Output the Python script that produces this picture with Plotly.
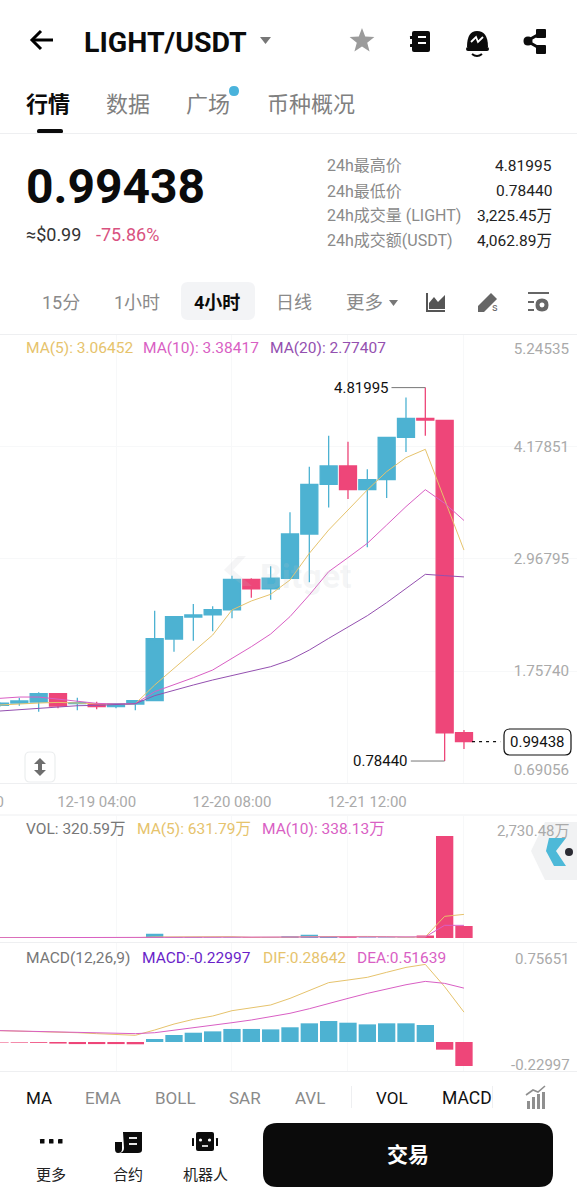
import math, re
import pandas as pd
import plotly.graph_objects as go

# ---------- data (oldest to newest, 4h candles) ----------
open_ = [1.386,1.411,1.422,1.512,1.404,1.397,1.372,1.401,1.437,2.103,2.341,2.363,2.417,2.748,2.644,2.759,3.238,3.775,3.973,3.717,3.825,4.283,4.488,4.466,1.090]
close = [1.411,1.433,1.512,1.379,1.415,1.372,1.404,1.437,2.107,2.345,2.363,2.420,2.748,2.644,2.762,3.238,3.775,3.973,3.717,3.825,4.283,4.488,4.470,1.090,0.99438]
high  = [1.420,1.469,1.527,1.515,1.469,1.426,1.411,1.444,2.409,2.345,2.481,2.456,2.788,2.759,2.889,3.472,3.966,4.301,4.236,3.937,4.290,4.712,4.81995,4.466,1.120]
low   = [1.375,1.382,1.318,1.354,1.332,1.343,1.354,1.332,1.430,1.966,2.085,2.186,2.327,2.550,2.528,2.752,2.716,3.523,3.616,3.094,3.627,4.124,4.301,0.7844,0.914]
ma5   = [1.390,1.404,1.411,1.418,1.415,1.404,1.397,1.404,1.606,1.786,1.966,2.146,2.417,2.514,2.586,2.741,3.029,3.281,3.497,3.714,3.912,4.063,4.153,3.606,3.06452]
ma10  = [1.462,1.476,1.476,1.455,1.433,1.408,1.401,1.404,1.534,1.606,1.685,1.768,1.894,2.020,2.157,2.345,2.579,2.831,2.982,3.137,3.335,3.534,3.717,3.570,3.38417]
ma20  = [1.325,1.339,1.354,1.372,1.382,1.386,1.393,1.404,1.491,1.552,1.606,1.660,1.707,1.757,1.804,1.876,1.984,2.110,2.236,2.355,2.496,2.651,2.802,2.788,2.77407]
vol   = [8,7,8,9,7,6,6,8,116,22,18,16,14,12,14,50,90,40,22,16,14,16,70,2730.48,320.59]
vol_ma5  = [9,9,8,8,8,8,7,7,28,32,36,38,36,18,15,22,36,42,44,42,36,22,30,580,631.79]
vol_ma10 = [8,8,8,8,8,8,8,8,18,20,22,23,24,24,24,24,26,28,30,30,30,28,30,340,338.13]
macd  = [-0.005,-0.006,-0.008,-0.015,-0.020,-0.020,-0.020,-0.022,0.029,0.067,0.089,0.102,0.125,0.125,0.121,0.141,0.179,0.201,0.185,0.169,0.179,0.179,0.163,-0.0735,-0.22997]
dif   = [0.109,0.105,0.102,0.096,0.089,0.080,0.070,0.064,0.115,0.172,0.217,0.249,0.300,0.326,0.355,0.418,0.492,0.569,0.594,0.620,0.668,0.715,0.744,0.530,0.28642]
dea   = [0.109,0.105,0.102,0.099,0.093,0.086,0.083,0.080,0.089,0.112,0.134,0.160,0.185,0.211,0.240,0.275,0.319,0.371,0.418,0.466,0.508,0.549,0.581,0.562,0.51639]
times = pd.date_range("2025-12-18 08:00", periods=25, freq="4h")

price_ticks = [5.24535, 4.17851, 2.96795, 1.75740, 0.69056]
price_grid  = [4.17851, 2.96795, 1.75740]
time_ticks  = ["2025-12-19 04:00", "2025-12-20 08:00", "2025-12-21 12:00"]
time_grid   = ["2025-12-19 08:00", "2025-12-20 08:00", "2025-12-21 08:00", "2025-12-22 08:00"]
last_price, day_high, day_low = 0.99438, 4.81995, 0.7844

UP, DOWN = "#4db2d2", "#ee4679"
GOLD, MAG, PUR = "#e6c36c", "#d95fc4", "#9450b0"
GRID = "#f7f8f9"
W, H = 577, 1200
CJK = "Roboto, 'Noto Sans CJK SC', sans-serif"

def px(y): return 1 - y / H

fig = go.Figure()
fig.add_trace(go.Candlestick(x=times, open=open_, high=high, low=low, close=close,
    increasing=dict(line=dict(color=UP, width=1.3), fillcolor=UP),
    decreasing=dict(line=dict(color=DOWN, width=1.3), fillcolor=DOWN),
    whiskerwidth=0, hoverinfo="skip", showlegend=False))
for vals, c in [(ma5, GOLD), (ma10, MAG), (ma20, PUR)]:
    fig.add_trace(go.Scatter(x=times, y=vals, mode="lines", line=dict(color=c, width=1), hoverinfo="skip", showlegend=False))

# high / low leaders and last price
fig.add_trace(go.Scatter(x=[times[22] - pd.Timedelta(minutes=420), times[22]], y=[day_high, day_high], mode="lines",
                         line=dict(color="#777", width=1), hoverinfo="skip", showlegend=False))
fig.add_trace(go.Scatter(x=[times[23] - pd.Timedelta(minutes=420), times[23]], y=[day_low, day_low], mode="lines",
                         line=dict(color="#777", width=1), hoverinfo="skip", showlegend=False))
fig.add_trace(go.Scatter(x=[times[24] + pd.Timedelta(minutes=100), times[24] + pd.Timedelta(minutes=450)], y=[last_price, last_price], mode="lines",
                         line=dict(color="#111", width=1.3, dash="3px,4px"), hoverinfo="skip", showlegend=False))

BARW = 12.9e6
fig.add_trace(go.Bar(x=times, y=vol, width=BARW, marker=dict(color=[UP if c >= o else DOWN for o, c in zip(open_, close)], line_width=0),
                     xaxis="x2", yaxis="y2", hoverinfo="skip", showlegend=False))
for vals, c in [(vol_ma5, GOLD), (vol_ma10, MAG)]:
    fig.add_trace(go.Scatter(x=times, y=vals, mode="lines", line=dict(color=c, width=1), xaxis="x2", yaxis="y2", hoverinfo="skip", showlegend=False))
fig.add_trace(go.Bar(x=times, y=macd, width=BARW, marker=dict(color=[UP if v >= 0 else DOWN for v in macd], line_width=0),
                     xaxis="x3", yaxis="y3", hoverinfo="skip", showlegend=False))
for vals, c in [(dif, GOLD), (dea, MAG)]:
    fig.add_trace(go.Scatter(x=times, y=vals, mode="lines", line=dict(color=c, width=1), xaxis="x3", yaxis="y3", hoverinfo="skip", showlegend=False))

# ---------- helpers ----------
ann, shp = [], []
def T(x, y, s, size=15.5, color="#222", anchor="left", bold=False, font=CJK):
    dx = {"left": -1.5, "right": 1.5, "center": 0}[anchor]
    ann.append(dict(x=(x + dx) / W, y=px(y + 1), xref="paper", yref="paper", text=f"<b>{s}</b>" if bold else s, showarrow=False,
                    xanchor=anchor, yanchor="middle", borderpad=0, font=dict(family=font, size=size, color=color)))
def path(d):
    out, i = [], 0
    for tok in d.split():
        if re.match(r"^[A-Za-z]$", tok):
            out.append(tok); continue
        v = float(tok)
        out.append(f"{v / W:.5f}" if i % 2 == 0 else f"{px(v):.5f}")
        i += 1
    return " ".join(out)
def fill(d, color):
    shp.append(dict(type="path", path=path(d), xref="paper", yref="paper", fillcolor=color, line=dict(width=0), layer="above"))
def stroke(d, color, w=1.0, fc=None):
    shp.append(dict(type="path", path=path(d), xref="paper", yref="paper", fillcolor=fc or "rgba(0,0,0,0)", line=dict(color=color, width=w), layer="above"))
def rr(x0, y0, x1, y1, r):
    return (f"M {x0+r} {y0} L {x1-r} {y0} Q {x1} {y0} {x1} {y0+r} L {x1} {y1-r} Q {x1} {y1} {x1-r} {y1} "
            f"L {x0+r} {y1} Q {x0} {y1} {x0} {y1-r} L {x0} {y0+r} Q {x0} {y0} {x0+r} {y0} Z")
def hline(y, x0=0, x1=W, color="#eeeff1", w=1):
    stroke(f"M {x0} {y} L {x1} {y}", color, w)
def circle(cx, cy, r, color):
    fill(f"M {cx-r} {cy} Q {cx-r} {cy-r} {cx} {cy-r} Q {cx+r} {cy-r} {cx+r} {cy} Q {cx+r} {cy+r} {cx} {cy+r} Q {cx-r} {cy+r} {cx-r} {cy} Z", color)

# ---------- header ----------
stroke("M 53 40 L 32 40", "#000", 3); stroke("M 41 31 L 32 40 L 41 49", "#000", 3)
T(84, 41, "LIGHT/USDT", 28.5, "#0b0b0b", bold=True)
fill("M 260 37 L 271 37 L 265.5 44 Z", "#777")
pts = []
for i in range(10):
    r = 13 if i % 2 == 0 else 5.5
    a = -math.pi / 2 + i * math.pi / 5
    pts.append((362 + r * math.cos(a), 41 + r * math.sin(a)))
fill("M " + " L ".join(f"{x:.1f} {y:.1f}" for x, y in pts) + " Z", "#9b9b9b")
fill(rr(412, 31, 430, 52, 2), "#0b0b0b"); fill(rr(410, 36, 414, 39, 0.5), "#0b0b0b"); fill(rr(410, 44, 414, 47, 0.5), "#0b0b0b")
stroke("M 418 37 L 426 37", "#fff", 2); stroke("M 418 43 L 426 43", "#fff", 2)
fill("M 467 47 Q 467 31 477 31 Q 488 31 488 47 Z", "#0b0b0b"); fill(rr(466, 47, 489, 51, 2), "#0b0b0b")
stroke("M 471 42 L 476 37 L 478 42 L 483 37", "#fff", 1.8); stroke("M 472 54 Q 477 58 482 54", "#0b0b0b", 2)
stroke("M 541 33 L 527 41 L 541 49", "#0b0b0b", 3); circle(528, 41, 4.5, "#0b0b0b"); fill(rr(536, 29, 546, 38, 1), "#0b0b0b"); fill(rr(536, 45, 546, 54, 1), "#0b0b0b")

T(26, 103, "行情", 22, "#0b0b0b", bold=True); T(106, 103, "数据", 22, "#808080"); T(186, 103, "广场", 22, "#808080"); T(267, 103, "币种概况", 22, "#808080")
circle(234, 91, 5, "#4ab3dc"); fill(rr(37, 129, 63, 133.5, 2), "#0b0b0b"); hline(133.5)

T(26, 186, "0.99438", 48, "#0b0b0b", bold=True)
T(26, 234, "≈$0.99", 18, "#333"); T(96, 234, "-75.86%", 18, "#d9527f")
for y, a, b in [(165, "24h最高价", "4.81995"), (190, "24h最低价", "0.78440"), (215, "24h成交量 (LIGHT)", "3,225.45万"), (240, "24h成交额(USDT)", "4,062.89万")]:
    T(327, y, a, 16, "#8a8a8a"); T(551, y, b, 15.5, "#222", "right")

# interval row
fill(rr(181, 282, 255, 320, 7), "#f3f4f6")
T(42, 302, "15分", 18, "#8a8a8a"); T(114, 302, "1小时", 18, "#8a8a8a"); T(194, 302, "4小时", 18, "#0b0b0b", bold=True)
T(276, 302, "日线", 18, "#8a8a8a"); T(346, 302, "更多", 18.5, "#8a8a8a"); fill("M 389 300 L 398 300 L 393.5 306 Z", "#777")
stroke("M 427 293 L 427 311 L 445 311", "#555", 2); fill("M 429 309 L 429 303 L 434 297 L 438 302 L 445 295 L 445 309 Z", "#555")
fill("M 478 306 L 491 293 L 497 299 L 484 312 L 478 312 Z", "#666"); T(492, 307, "s", 11, "#666")
stroke("M 528 293 L 549 293", "#666", 2); stroke("M 528 302 L 534 302", "#666", 2); stroke("M 528 310 L 534 310", "#666", 2)
circle(542, 305, 6.5, "#666"); circle(542, 305, 2.5, "#fff")
hline(334.5)

# ---------- pane furniture ----------
hline(783.5); hline(815); hline(942.5); hline(1071.5)
T(26, 347, "MA(5): 3.06452", 15.5, GOLD); T(143, 347, "MA(10): 3.38417", 15.5, MAG); T(270, 347, "MA(20): 2.77407", 15.5, PUR)
ann.append(dict(x=times[22] - pd.Timedelta(minutes=430), y=day_high, xref="x", yref="y", text="4.81995", showarrow=False, xanchor="right", yanchor="middle", font=dict(family=CJK, size=15, color="#111")))
ann.append(dict(x=times[23] - pd.Timedelta(minutes=430), y=day_low, xref="x", yref="y", text="0.78440", showarrow=False, xanchor="right", yanchor="middle", font=dict(family=CJK, size=15, color="#111")))
fill(rr(504, 729, 571, 755, 6), "#ffffff"); stroke(rr(504, 729, 571, 755, 6), "#111", 1.2)
ann.append(dict(x=537.5 / W, y=last_price, xref="paper", yref="y", text="0.99438", showarrow=False, xanchor="center", yanchor="middle", font=dict(family=CJK, size=15, color="#111")))
ann.append(dict(x=306 / W, y=px(576), xref="paper", yref="paper", text="<b>Bitget</b>", showarrow=False, font=dict(family=CJK, size=34, color="rgba(190,195,200,0.16)")))
fill("M 238 556 L 246 556 L 233 570 L 252 586 L 243 586 L 224 570 Z", "rgba(190,195,200,0.16)")
stroke(rr(25, 752, 55, 782, 5), "#eceeef", 1.2, "#ffffff")
fill("M 40 758 L 46 764 L 42 764 L 42 770 L 46 770 L 40 776 L 34 770 L 38 770 L 38 764 L 34 764 Z", "#6e6e6e")
T(3, 801, "12-18 00:00", 15, "#aaaaaa", "right")

T(26, 828, "VOL: 320.59万", 15.5, "#777"); T(137, 828, "MA(5): 631.79万", 15.5, GOLD); T(262, 828, "MA(10): 338.13万", 15.5, MAG)
ann.append(dict(x=572 / W, y=vol[-2], xref="paper", yref="y2", yshift=5, text="2,730.48万", showarrow=False, xanchor="right", yanchor="middle", font=dict(family=CJK, size=15, color="#aaaaaa")))
fill("M 577 822 L 545 822 L 531 851 L 545 880 L 577 880 Z", "#f1f2f3")
fill("M 549 838 L 566 838 L 556 851 L 566 866 L 554 866 L 546 851 Z", "#4db9d8"); circle(569, 852, 4, "#2b2b33")

T(26, 957, "MACD(12,26,9)", 15.5, "#777"); T(142, 957, "MACD:-0.22997", 15.5, "#6a1fc9"); T(263, 957, "DIF:0.28642", 15.5, GOLD); T(357, 957, "DEA:0.51639", 15.5, MAG)
ann.append(dict(x=572 / W, y=0.75651, xref="paper", yref="y3", yshift=4, text="0.75651", showarrow=False, xanchor="right", yanchor="middle", font=dict(family=CJK, size=15, color="#aaaaaa")))
ann.append(dict(x=572 / W, y=-0.22997, xref="paper", yref="y3", yshift=1, text="-0.22997", showarrow=False, xanchor="right", yanchor="middle", font=dict(family=CJK, size=15, color="#aaaaaa")))

# ---------- bottom ----------
T(26, 1097, "MA", 17, "#111"); T(85, 1097, "EMA", 17, "#8a8a8a"); T(155, 1097, "BOLL", 17, "#8a8a8a"); T(229, 1097, "SAR", 17, "#8a8a8a"); T(295, 1097, "AVL", 17, "#8a8a8a")
T(377, 1097, "VOL", 17, "#111"); T(442, 1097, "MACD", 17.5, "#111")
stroke("M 351.5 1086 L 351.5 1108", "#eeeff1", 1); stroke("M 492.5 1086 L 492.5 1108", "#eeeff1", 1)
for x0, y0 in [(527, 1101), (532, 1097), (537, 1094), (542, 1092)]:
    fill(f"M {x0} 1109 L {x0} {y0} L {x0+3} {y0} L {x0+3} 1109 Z", "#8f8f8f")
stroke("M 526 1095 L 533 1090 L 538 1092 L 545 1086", "#8f8f8f", 1.6)
for x0 in (40, 49, 58):
    fill(rr(x0, 1139, x0 + 4.5, 1143.5, 0.5), "#0b0b0b")
fill("M 123 1132 L 142 1132 L 142 1150 Q 142 1153 138 1153 L 120 1153 Q 124 1152 124 1148 Z", "#0b0b0b")
fill("M 115 1142 L 122 1142 L 122 1149 Q 122 1153 118 1153 Q 115 1153 115 1149 Z", "#0b0b0b")
stroke("M 129 1138 L 137 1138", "#fff", 1.8); stroke("M 129 1144 L 137 1144", "#fff", 1.8)
fill(rr(196, 1132, 214, 1151, 2), "#0b0b0b"); fill(rr(192, 1138, 194, 1146, 0.5), "#0b0b0b"); fill(rr(216, 1138, 218, 1146, 0.5), "#0b0b0b")
circle(200.5, 1140, 1.6, "#fff"); circle(209.5, 1140, 1.6, "#fff"); stroke("M 202 1146 L 208 1146", "#fff", 1.6)
T(51, 1174, "更多", 15, "#222", "center"); T(128, 1174, "合约", 15, "#222", "center"); T(205, 1174, "机器人", 15, "#222", "center")
fill(rr(263, 1123, 553, 1187, 14), "#0b0b0b"); T(408, 1154, "交易", 21, "#fff", "center", bold=True)

def dom(y0, y1): return [px(y1), px(y0)]
xrange_ = ["2025-12-18 08:00", "2025-12-23 07:23"]
xbase = dict(type="date", range=xrange_, showline=False, zeroline=False, showgrid=False, ticks="",
             minor=dict(tickvals=time_grid, showgrid=True, gridcolor=GRID, gridwidth=1, ticks=""))
layout = dict(
    width=W, height=H, margin=dict(l=0, r=0, t=0, b=0), paper_bgcolor="#fff", plot_bgcolor="#fff",
    font=dict(family=CJK), showlegend=False, boxgap=0.12, boxgroupgap=0, barmode="overlay", hovermode=False,
    xaxis=dict(xbase, anchor="y", tickmode="array", tickvals=time_ticks, tickformat="%m-%d %H:%M",
               ticklabelstandoff=8, tickfont=dict(size=15, color="#aaaaaa"), rangeslider=dict(visible=False)),
    yaxis=dict(domain=dom(335, 783), range=[0.5470, 5.3885], side="right", anchor="x", showline=False, zeroline=False, showgrid=False,
               tickmode="array", tickvals=price_ticks, ticktext=[f"{v:.5f}" for v in price_ticks],
               ticklabelposition="inside", ticklabelstandoff=5, tickfont=dict(size=15.2, color="#aaaaaa"), ticks="",
               minor=dict(tickvals=price_grid, showgrid=True, gridcolor=GRID, gridwidth=1, ticks="")),
    xaxis2=dict(xbase, anchor="y2", matches="x", showticklabels=False),
    yaxis2=dict(domain=dom(815.5, 938), range=[0, 3279], showticklabels=False, showgrid=False, zeroline=False, showline=False, anchor="x2", ticks=""),
    xaxis3=dict(xbase, anchor="y3", matches="x", showticklabels=False),
    yaxis3=dict(domain=dom(943, 1071), range=[-0.278, 0.949], showticklabels=False, showgrid=False, zeroline=False, showline=False, anchor="x3", ticks=""),
    annotations=ann, shapes=shp,
)
fig.update_layout(**layout)
fig.write_html("out.html", config=dict(displayModeBar=False, staticPlot=True),
               post_script="document.body.style.margin='0';document.body.style.overflow='hidden';")
